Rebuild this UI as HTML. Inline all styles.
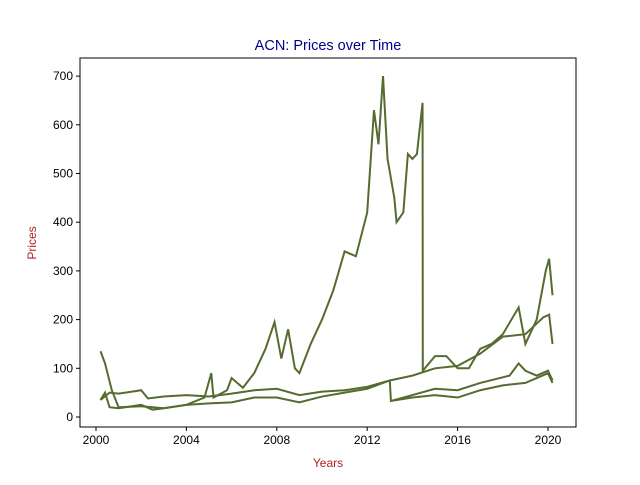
<!DOCTYPE html>
<html><head><meta charset="utf-8"><style>body{margin:0;background:#fff}svg{font-family:"Liberation Sans",sans-serif}</style></head>
<body>
<svg id="c" width="640" height="480"></svg>
<script>
const years=[[2000.2,2000.4,2000.7,2001,2002,2003,2004,2004.8,2005.1,2005.2,2005.8,2006,2006.5,2007,2007.5,2007.9,2008.2,2008.5,2008.8,2009,2009.5,2010,2010.5,2011,2011.5,2012,2012.3,2012.5,2012.7,2012.9,2013.2,2013.3,2013.6,2013.8,2014,2014.2,2014.45,2014.46,2015,2015.5,2016,2016.5,2017,2017.5,2018,2018.7,2019,2019.5,2019.9,2020.05,2020.2],
[2000.2,2000.6,2001,2002,2002.3,2003,2004,2005,2006,2007,2008,2009,2010,2011,2012,2013,2014,2015,2016,2017,2018,2019,2019.8,2020.05,2020.2],
[2000.2,2000.4,2000.6,2001,2002,2002.5,2003,2004,2005,2006,2007,2008,2009,2010,2011,2012,2013,2013.05,2014,2015,2016,2017,2018,2019,2020,2020.2],
[2013.05,2014,2015,2016,2017,2018.3,2018.7,2019,2019.5,2020,2020.2]];
const seriesA=[135,110,55,20,22,18,25,40,90,40,55,80,60,90,140,195,120,180,100,90,150,200,260,340,330,420,630,560,700,530,450,400,420,540,530,540,645,95,125,125,100,100,140,150,170,225,150,200,300,325,250];
const seriesB=[35,50,48,55,38,42,45,42,48,55,58,45,52,55,62,75,85,100,105,130,165,170,205,210,150];
const seriesC=[35,50,20,18,25,15,18,25,28,30,40,40,30,42,50,58,75,33,40,45,40,55,65,70,90,70];
const seriesD=[33,45,58,55,70,85,110,95,85,95,75];
const xTicks=[2000,2004,2008,2012,2016,2020];
const yTicks=[0,100,200,300,400,500,600,700];
const L=80,R=576,T=58,B=427;
const X=v=>96+(v-2000)*22.6, Y=v=>417-v*0.487;
const s=document.getElementById('c'),NS='http://www.w3.org/2000/svg';
function mk(t,a,txt){const e=document.createElementNS(NS,t);for(const k in a)e.setAttribute(k,a[k]);if(txt!==undefined)e.textContent=txt;s.appendChild(e);return e;}
[seriesA,seriesB,seriesC,seriesD].forEach((vals,i)=>{
 const p=mk('polyline',{points:vals.map((v,j)=>X(years[i][j])+','+Y(v)).join(' '),fill:'none',stroke:'#556b2f','stroke-width':2});
 
 
});
const f=mk('rect',{x:L,y:T,width:R-L,height:B-T,fill:'none',stroke:'#000','stroke-width':1});


xTicks.forEach(t=>{mk('line',{x1:X(t),x2:X(t),y1:B,y2:B+4,stroke:'#000'});
 const e=mk('text',{x:X(t),y:B+17,'text-anchor':'middle','font-size':12},t);
 
 });
yTicks.forEach(t=>{mk('line',{x1:L-4,x2:L,y1:Y(t),y2:Y(t),stroke:'#000'});
 const e=mk('text',{x:L-7,y:Y(t)+4,'text-anchor':'end','font-size':12},t);
 
 });
let e=mk('text',{x:328,y:50,'text-anchor':'middle','font-size':14.5,fill:'#00008b'},'ACN: Prices over Time');


e=mk('text',{x:328,y:467,'text-anchor':'middle','font-size':12,fill:'#b22222'},'Years');


e=mk('text',{x:36,y:243,'text-anchor':'middle','font-size':12,fill:'#b22222',transform:'rotate(-90 36 243)'},'Prices');


</script>
</body></html>
